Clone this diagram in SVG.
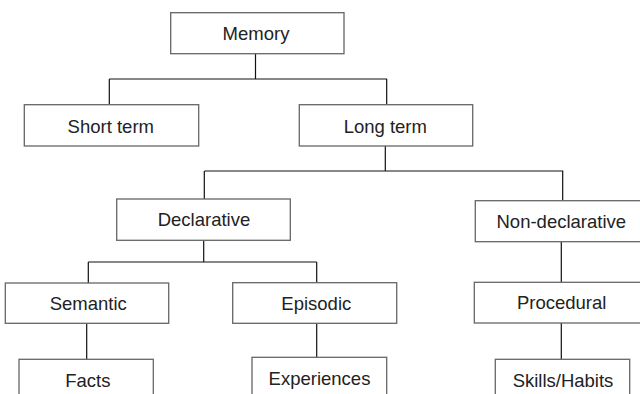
<svg xmlns="http://www.w3.org/2000/svg" width="640" height="394" viewBox="0 0 640 394">
<style>
.box{fill:#fff;stroke:#666;stroke-width:1.3}
.lbl{font-family:"Liberation Sans",Arial,sans-serif;font-size:18.5px;fill:#222;text-anchor:middle}
.conn{fill:none;stroke:#111;stroke-width:1.2}
</style>
<rect width="640" height="394" fill="#fff"/>
<g id="connectors" class="conn">
<path d="M255.5 53.7V79M109.3 79H387M109.3 79V104.7M386.7 79V104.7"/>
<path d="M385.3 146V171M204.5 171H563.3M204.3 171V199M562.7 171V200.7"/>
<path d="M203.7 240.3V262M88.3 262H316.7M88.3 262V283M316.7 262V282.7"/>
<path d="M86.7 323.3V359.3M316.7 323.3V357.3"/>
<path d="M561.3 241.7V282.3M561.3 323V359.3"/>
</g>
<g id="memory"><rect class="box" x="170.7" y="12.7" width="173.3" height="41"/><text class="lbl" x="256" y="40">Memory</text></g>
<g id="short-term"><rect class="box" x="24.3" y="104.7" width="174.4" height="41.3"/><text class="lbl" x="110.8" y="132.7">Short term</text></g>
<g id="long-term"><rect class="box" x="299.3" y="104.7" width="173.4" height="41.3"/><text class="lbl" x="385.3" y="132.7">Long term</text></g>
<g id="declarative"><rect class="box" x="116.7" y="199" width="173.6" height="41.3"/><text class="lbl" x="204" y="225.7">Declarative</text></g>
<g id="non-declarative"><rect class="box" x="475.3" y="200.7" width="175" height="41"/><text class="lbl" x="561.3" y="227.7">Non-declarative</text></g>
<g id="semantic"><rect class="box" x="5.3" y="283" width="163.4" height="40.3"/><text class="lbl" x="88.3" y="310">Semantic</text></g>
<g id="episodic"><rect class="box" x="232.7" y="282.7" width="164" height="40.6"/><text class="lbl" x="316.3" y="310">Episodic</text></g>
<g id="procedural"><rect class="box" x="474.3" y="282.3" width="176" height="40.7"/><text class="lbl" x="561.7" y="309.3">Procedural</text></g>
<g id="facts"><rect class="box" x="19" y="359.3" width="134.3" height="45"/><text class="lbl" x="87.8" y="386.7">Facts</text></g>
<g id="experiences"><rect class="box" x="252" y="357.3" width="134.7" height="47"/><text class="lbl" x="319.5" y="385">Experiences</text></g>
<g id="skills-habits"><rect class="box" x="495.3" y="359.3" width="134.4" height="45"/><text class="lbl" x="563" y="386.7">Skills/Habits</text></g>
</svg>
